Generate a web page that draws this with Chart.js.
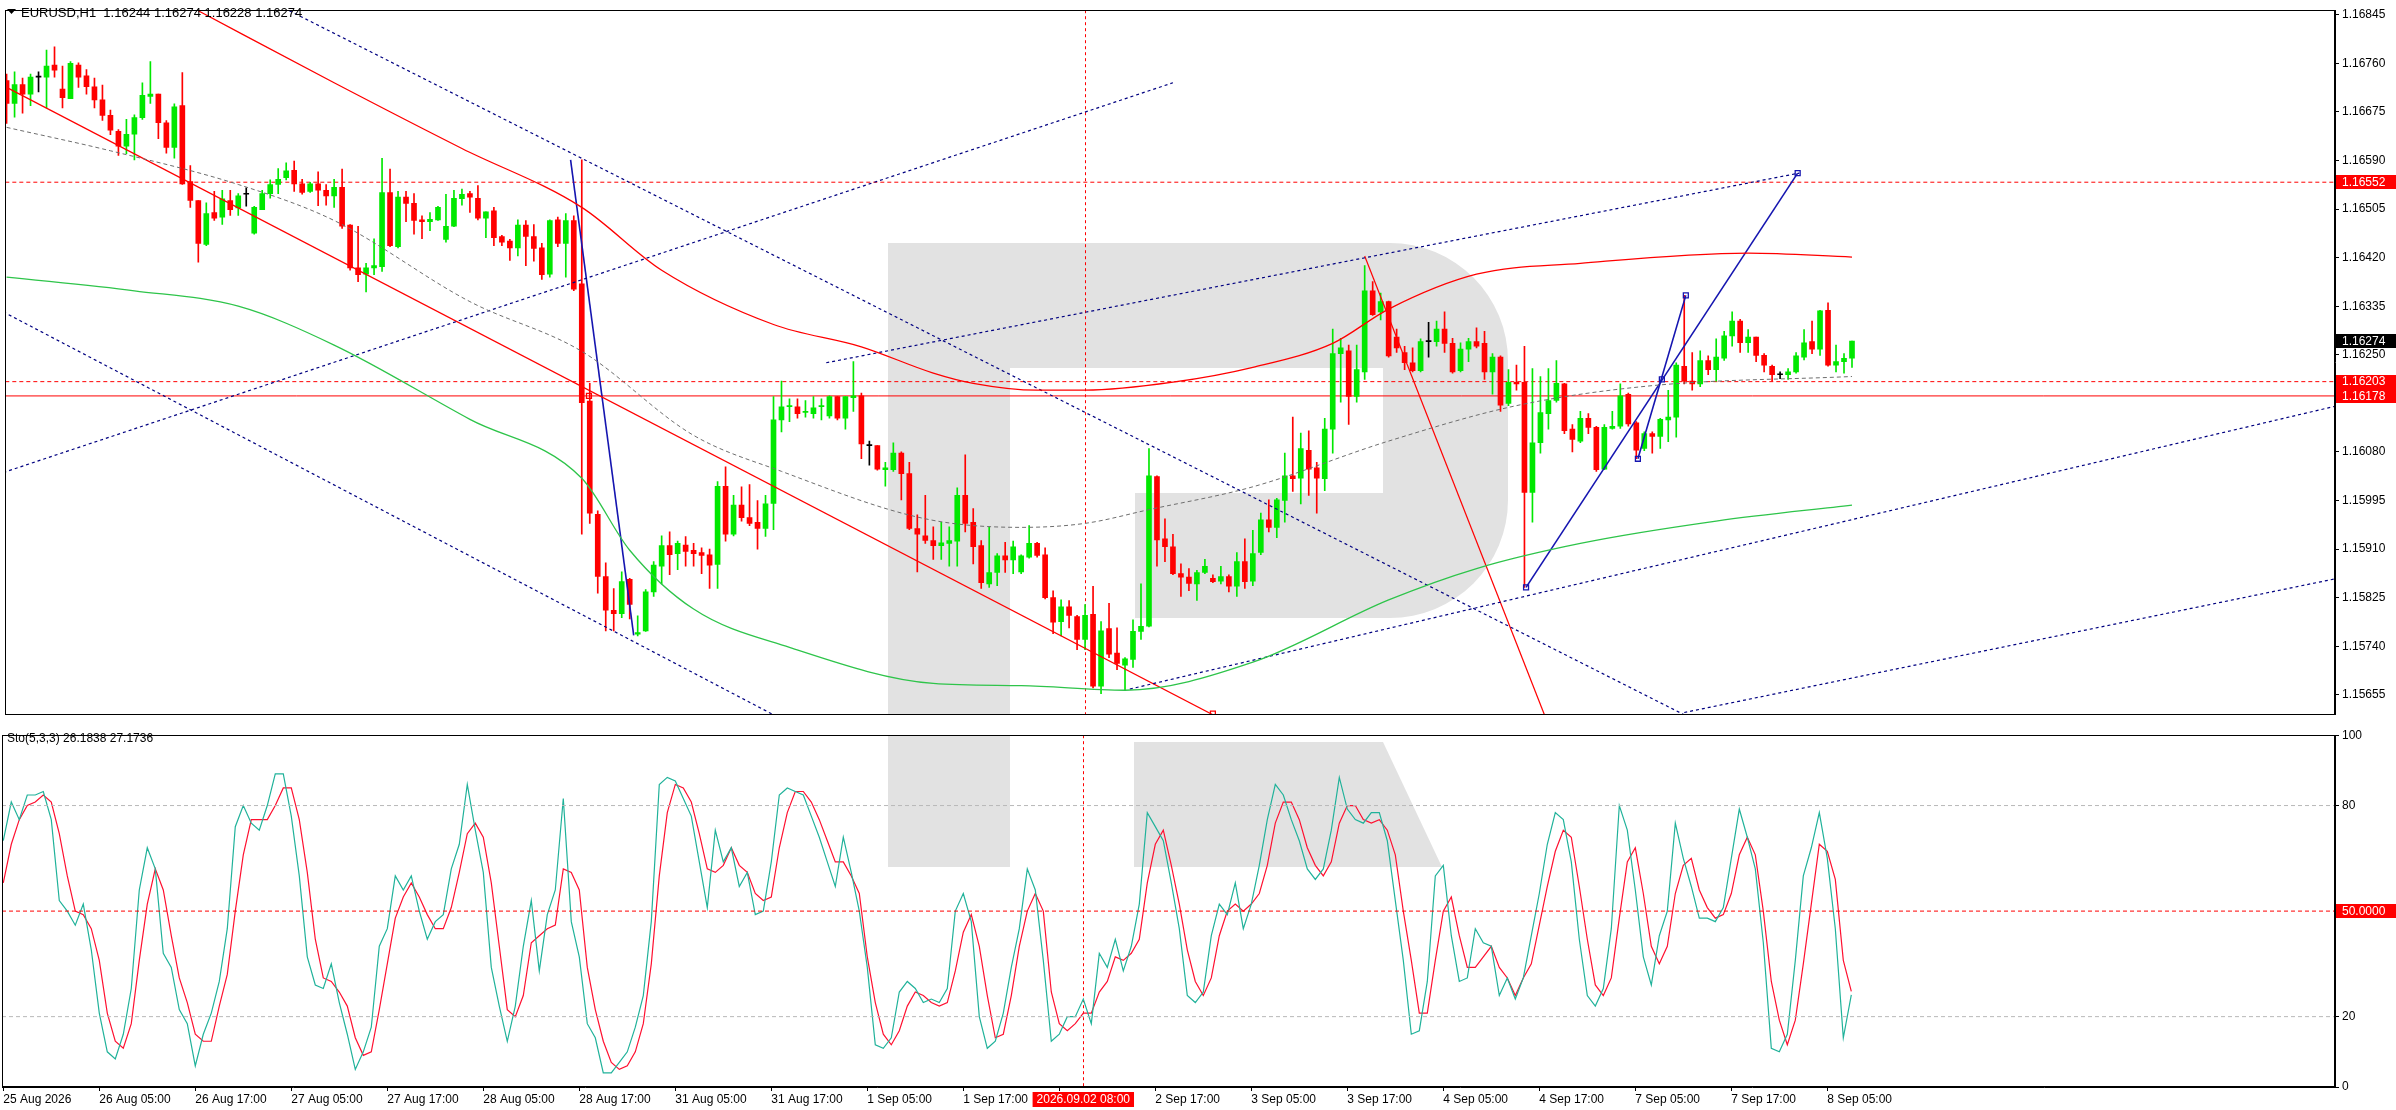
<!DOCTYPE html>
<html><head><meta charset="utf-8">
<script src="https://cdn.jsdelivr.net/npm/chart.js@4.4.1/dist/chart.umd.min.js"></script>
<style>html,body{margin:0;padding:0;background:#fff;overflow:hidden}canvas{display:block}</style>
</head><body>
<canvas id="main" width="2396" height="725"></canvas>
<canvas id="sto" width="2396" height="385"></canvas>
<script>
const xLabels=['25 Aug 2026','26 Aug 05:00','26 Aug 17:00','27 Aug 05:00','27 Aug 17:00','28 Aug 05:00','28 Aug 17:00','31 Aug 05:00','31 Aug 17:00','1 Sep 05:00','1 Sep 17:00','2 Sep 05:00','2 Sep 17:00','3 Sep 05:00','3 Sep 17:00','4 Sep 05:00','4 Sep 17:00','7 Sep 05:00','7 Sep 17:00','8 Sep 05:00'];
const priceTicks=[1.16845,1.16760,1.16675,1.16590,1.16505,1.16420,1.16335,1.16250,1.16080,1.15995,1.15910,1.15825,1.15740,1.15655];
const opens=[1.16730,1.16690,1.16723,1.16706,1.16736,1.16736,1.16757,1.16715,1.16698,1.16757,
1.16738,1.16719,1.16696,1.16669,1.16641,1.16615,1.16636,1.16665,1.16702,1.16706,
1.16656,1.16613,1.16686,1.16553,1.16520,1.16443,1.16499,1.16491,1.16520,1.16507,
1.16531,1.16463,1.16504,1.16532,1.16548,1.16560,1.16573,1.16549,1.16536,1.16549,
1.16538,1.16528,1.16543,1.16477,1.16402,1.16391,1.16402,1.16404,1.16534,1.16439,
1.16526,1.16515,1.16486,1.16483,1.16486,1.16452,1.16475,1.16523,1.16532,1.16524,
1.16489,1.16502,1.16457,1.16449,1.16437,1.16477,1.16457,1.16437,1.16391,1.16486,
1.16445,1.16485,1.16374,1.16169,1.15971,1.15862,1.15803,1.15797,1.15857,1.15761,
1.15767,1.15835,1.15880,1.15916,1.15902,1.15917,1.15908,1.15904,1.15900,1.15883,
1.16020,1.15936,1.15987,1.15965,1.15957,1.15946,1.15990,1.16136,1.16159,1.16159,
1.16149,1.16147,1.16159,1.16143,1.16177,1.16139,1.16175,1.16178,1.16091,1.16091,
1.16049,1.16049,1.16078,1.16042,1.15946,1.15933,1.15925,1.15916,1.15920,1.15924,
1.16004,1.15957,1.15916,1.15849,1.15869,1.15898,1.15891,1.15870,1.15896,1.15920,
1.15900,1.15825,1.15783,1.15809,1.15792,1.15752,1.15796,1.15670,1.15771,1.15728,
1.15707,1.15717,1.15766,1.15775,1.16037,1.15928,1.15914,1.15867,1.15861,1.15849,
1.15869,1.15859,1.15854,1.15862,1.15845,1.15888,1.15854,1.15904,1.15961,1.15948,
1.15995,1.16038,1.16034,1.16083,1.16052,1.16033,1.16120,1.16252,1.16257,1.16177,
1.16220,1.16362,1.16325,1.16343,1.16281,1.16254,1.16236,1.16222,1.16273,1.16273,
1.16295,1.16270,1.16222,1.16260,1.16273,1.16270,1.16220,1.16246,1.16165,1.16202,
1.16202,1.16009,1.16096,1.16147,1.16170,1.16199,1.16120,1.16099,1.16139,1.16123,
1.16050,1.16121,1.16125,1.16181,1.16131,1.16086,1.16112,1.16107,1.16136,1.16141,
1.16230,1.16204,1.16199,1.16240,1.16224,1.16244,1.16283,1.16309,1.16271,1.16281,
1.16249,1.16230,1.16215,1.16215,1.16220,1.16246,1.16273,1.16260,1.16328,1.16232,
1.16238,1.16244];
const closes=[1.16690,1.16723,1.16706,1.16736,1.16736,1.16755,1.16748,1.16700,1.16760,1.16736,
1.16719,1.16696,1.16669,1.16643,1.16615,1.16636,1.16665,1.16704,1.16706,1.16656,
1.16613,1.16684,1.16549,1.16520,1.16445,1.16497,1.16489,1.16523,1.16504,1.16528,
1.16531,1.16508,1.16532,1.16548,1.16557,1.16572,1.16549,1.16534,1.16549,1.16538,
1.16528,1.16543,1.16475,1.16402,1.16390,1.16402,1.16406,1.16534,1.16441,1.16526,
1.16515,1.16485,1.16483,1.16487,1.16508,1.16475,1.16524,1.16531,1.16526,1.16489,
1.16500,1.16455,1.16447,1.16437,1.16477,1.16457,1.16436,1.16390,1.16485,1.16445,
1.16485,1.16365,1.16166,1.15973,1.15862,1.15803,1.15797,1.15853,1.15813,1.15764,
1.15835,1.15882,1.15916,1.15900,1.15920,1.15906,1.15902,1.15899,1.15882,1.16020,
1.15936,1.15987,1.15965,1.15955,1.15946,1.15989,1.16136,1.16159,1.16161,1.16147,
1.16151,1.16157,1.16161,1.16177,1.16139,1.16177,1.16178,1.16094,1.16091,1.16050,
1.16052,1.16078,1.16042,1.15946,1.15936,1.15925,1.15916,1.15921,1.15925,1.16004,
1.15955,1.15914,1.15851,1.15869,1.15898,1.15891,1.15914,1.15898,1.15920,1.15899,
1.15825,1.15782,1.15809,1.15794,1.15752,1.15794,1.15670,1.15767,1.15726,1.15710,
1.15718,1.15766,1.15775,1.16038,1.15926,1.15914,1.15867,1.15861,1.15850,1.15869,
1.15880,1.15853,1.15862,1.15845,1.15888,1.15853,1.15902,1.15961,1.15948,1.15996,
1.16038,1.16033,1.16086,1.16050,1.16034,1.16120,1.16252,1.16262,1.16177,1.16224,
1.16362,1.16320,1.16343,1.16248,1.16262,1.16236,1.16222,1.16273,1.16273,1.16295,
1.16270,1.16220,1.16260,1.16273,1.16265,1.16220,1.16246,1.16162,1.16202,1.16199,
1.16009,1.16096,1.16149,1.16170,1.16200,1.16117,1.16102,1.16139,1.16123,1.16049,
1.16123,1.16125,1.16178,1.16129,1.16083,1.16112,1.16107,1.16137,1.16141,1.16232,
1.16204,1.16199,1.16240,1.16224,1.16246,1.16283,1.16309,1.16271,1.16281,1.16249,
1.16232,1.16215,1.16215,1.16220,1.16248,1.16271,1.16260,1.16327,1.16232,1.16238,
1.16244,1.16274];
const highs=[1.16741,1.16745,1.16734,1.16741,1.16745,1.16783,1.16789,1.16755,1.16763,1.16761,
1.16749,1.16734,1.16722,1.16678,1.16644,1.16662,1.16670,1.16726,1.16763,1.16706,
1.16660,1.16689,1.16744,1.16581,1.16520,1.16516,1.16536,1.16538,1.16538,1.16532,
1.16542,1.16510,1.16538,1.16556,1.16576,1.16586,1.16589,1.16557,1.16552,1.16570,
1.16548,1.16557,1.16575,1.16478,1.16475,1.16410,1.16453,1.16594,1.16575,1.16536,
1.16536,1.16532,1.16493,1.16499,1.16510,1.16531,1.16538,1.16540,1.16536,1.16546,
1.16500,1.16508,1.16459,1.16452,1.16486,1.16485,1.16478,1.16445,1.16486,1.16491,
1.16497,1.16493,1.16591,1.16200,1.15977,1.15886,1.15841,1.15870,1.15859,1.15793,
1.15839,1.15888,1.15933,1.15940,1.15924,1.15932,1.15920,1.15912,1.15910,1.16028,
1.16054,1.16004,1.16019,1.16023,1.15995,1.16004,1.16177,1.16204,1.16173,1.16173,
1.16170,1.16177,1.16173,1.16178,1.16177,1.16177,1.16238,1.16183,1.16099,1.16091,
1.16062,1.16096,1.16080,1.16062,1.15970,1.16004,1.15949,1.15957,1.15949,1.16017,
1.16075,1.15981,1.15925,1.15949,1.15902,1.15922,1.15924,1.15900,1.15951,1.15922,
1.15912,1.15837,1.15821,1.15820,1.15794,1.15813,1.15845,1.15783,1.15815,1.15772,
1.15720,1.15786,1.15849,1.16086,1.16038,1.15963,1.15936,1.15884,1.15876,1.15873,
1.15892,1.15865,1.15880,1.15865,1.15904,1.15928,1.15943,1.15973,1.15996,1.15999,
1.16078,1.16141,1.16113,1.16117,1.16062,1.16139,1.16295,1.16279,1.16267,1.16267,
1.16406,1.16378,1.16358,1.16344,1.16295,1.16265,1.16262,1.16278,1.16307,1.16309,
1.16325,1.16279,1.16271,1.16279,1.16297,1.16291,1.16252,1.16248,1.16224,1.16232,
1.16265,1.16226,1.16212,1.16226,1.16240,1.16200,1.16128,1.16151,1.16147,1.16125,
1.16128,1.16151,1.16199,1.16183,1.16133,1.16115,1.16115,1.16139,1.16188,1.16236,
1.16354,1.16254,1.16257,1.16248,1.16278,1.16291,1.16325,1.16312,1.16294,1.16281,
1.16252,1.16232,1.16220,1.16226,1.16254,1.16294,1.16309,1.16328,1.16341,1.16267,
1.16252,1.16274];
const lows=[1.16655,1.16666,1.16673,1.16686,1.16710,1.16682,1.16736,1.16682,1.16698,1.16718,
1.16706,1.16682,1.16660,1.16635,1.16599,1.16602,1.16591,1.16662,1.16690,1.16628,
1.16603,1.16594,1.16548,1.16508,1.16412,1.16441,1.16485,1.16478,1.16494,1.16494,
1.16510,1.16461,1.16504,1.16524,1.16532,1.16556,1.16536,1.16531,1.16534,1.16511,
1.16512,1.16508,1.16471,1.16398,1.16378,1.16360,1.16390,1.16396,1.16439,1.16437,
1.16483,1.16461,1.16453,1.16467,1.16485,1.16447,1.16474,1.16512,1.16499,1.16486,
1.16455,1.16441,1.16441,1.16415,1.16423,1.16406,1.16414,1.16382,1.16386,1.16439,
1.16386,1.16362,1.15936,1.15955,1.15833,1.15767,1.15767,1.15790,1.15788,1.15758,
1.15766,1.15827,1.15849,1.15865,1.15874,1.15880,1.15880,1.15867,1.15841,1.15841,
1.15924,1.15933,1.15959,1.15951,1.15910,1.15932,1.15944,1.16115,1.16133,1.16139,
1.16141,1.16139,1.16136,1.16139,1.16136,1.16120,1.16151,1.16068,1.16057,1.16048,
1.16020,1.16046,1.15996,1.15944,1.15870,1.15920,1.15892,1.15892,1.15880,1.15880,
1.15940,1.15884,1.15841,1.15843,1.15846,1.15869,1.15867,1.15867,1.15894,1.15896,
1.15823,1.15762,1.15758,1.15772,1.15734,1.15734,1.15667,1.15657,1.15720,1.15699,
1.15663,1.15703,1.15752,1.15774,1.15880,1.15888,1.15865,1.15827,1.15837,1.15820,
1.15867,1.15851,1.15849,1.15835,1.15827,1.15841,1.15846,1.15900,1.15940,1.15930,
1.15957,1.16011,1.15989,1.16004,1.15973,1.16012,1.16078,1.16167,1.16128,1.16167,
1.16207,1.16319,1.16311,1.16246,1.16254,1.16224,1.16220,1.16220,1.16246,1.16265,
1.16254,1.16218,1.16220,1.16238,1.16262,1.16207,1.16181,1.16151,1.16161,1.16188,
1.15843,1.15957,1.16078,1.16120,1.16167,1.16112,1.16080,1.16096,1.16112,1.16046,
1.16049,1.16120,1.16121,1.16125,1.16068,1.16082,1.16078,1.16086,1.16098,1.16106,
1.16199,1.16188,1.16194,1.16215,1.16204,1.16240,1.16265,1.16254,1.16254,1.16238,
1.16220,1.16204,1.16208,1.16207,1.16218,1.16241,1.16252,1.16249,1.16230,1.16220,
1.16218,1.16228];
const stochK=[70,81,76,83,83,84,76,53,50,46,52,39,21,10,8,15,28,56,68,62,38,34,22,18,6,15,21,30,45,74,80,75,73,80,89,89,77,60,37,29,28,35,24,15,5,10,17,40,45,60,56,60,50,42,47,49,62,69,86,73,61,34,23,13,23,40,53,33,49,56,82,47,37,18,14,4,4,7,
10,17,26,47,86,88,87,82,77,64,51,73,64,68,57,61,49,50,64,83,85,84,83,77,71,64,57,71,61,50,34,12,11,14,27,30,28,24,25,24,28,50,55,47,20,11,13,21,34,45,62,56,36,13,15,20,20,25,18,38,34,42,33,40,52,78,74,70,58,45,26,24,27,43,52,49,
58,45,52,63,76,86,83,76,70,62,59,62,73,88,79,76,75,78,78,70,53,36,15,16,30,60,63,43,30,31,45,41,40,26,31,25,31,43,55,69,78,76,64,42,26,23,28,45,80,73,56,37,29,43,50,75,65,57,48,48,47,51,65,79,71,62,41,11,10,15,36,60,68,78,65,45,14,26.18];
const stochD=[58,69,76,80,81,83,81,72,60,50,49,45,36,21,13,11,18,36,52,62,56,43,31,24,15,13,13,23,32,50,66,76,76,76,80,85,85,76,61,42,31,30,27,23,14,9,10,22,35,48,54,58,54,49,45,45,51,61,72,75,71,58,40,22,20,26,41,43,45,46,62,61,56,34,22,13,7,5,
6,10,18,35,60,78,86,85,81,72,62,61,63,68,63,61,55,53,54,68,78,84,84,81,76,70,64,64,60,55,37,24,15,12,16,23,27,26,24,23,24,33,44,49,40,26,14,15,26,40,50,55,50,27,18,16,18,21,21,27,30,37,36,38,42,58,69,73,63,52,39,30,26,31,43,50,
52,50,52,55,63,75,81,81,76,68,63,60,64,75,80,80,76,75,76,73,66,50,36,21,21,36,50,54,43,34,34,37,40,34,31,26,31,35,46,57,67,73,71,57,42,29,26,31,48,64,68,55,40,35,40,55,63,65,56,51,48,49,55,66,71,66,50,30,19,12,19,35,52,69,67,59,36,27.17];
const redMaBars=[24,41,57,72,82,96,107,116,121,129,135,146,156,166,173,184,197,218,231];
const redMaVals=[1.16852,1.16726,1.16611,1.16508,1.16398,1.16303,1.16264,1.16218,1.16200,1.16188,1.16188,1.16202,1.16228,1.16270,1.16330,1.16391,1.16410,1.16428,1.16421];
const grayMaBars=[0,13,29,41,58,72,86,97,115,127,135,143,156,173,189,206,231];
const grayMaVals=[1.16648,1.16607,1.16548,1.16485,1.16343,1.16256,1.16109,1.16046,1.15963,1.15948,1.15955,1.15979,1.16019,1.16099,1.16161,1.16196,1.16212];
const greenMaBars=[0,16,29,41,58,72,78,86,98,116,127,140,156,173,184,197,214,231];
const greenMaVals=[1.16386,1.16362,1.16335,1.16267,1.16137,1.16034,1.15908,1.15805,1.15738,1.15675,1.15671,1.15663,1.15712,1.15821,1.15876,1.15920,1.15959,1.15987];
const channelLines=[[35.4,1.16852,210,1.15620],[-0.4,1.16325,96,1.15620],[-0.4,1.16044,146,1.16726],[102.6,1.16236,224.4,1.16568],[140.6,1.15665,291.5,1.16160],[210,1.15624,291.5,1.15858]];
const redLines=[[0,1.16718,151,1.15620],[170,1.16423,192.5,1.15620]];
const blueLines=[[70.6,1.16591,78.5,1.15759],[190.2,1.15843,224.2,1.16568],[204.2,1.16068,210.2,1.16354]];
const blueMarks=[[190.2,1.15843],[207.2,1.16207],[224.2,1.16568],[204.2,1.16068],[210.2,1.16354]];
const redMarks=[[72.9,1.16178],[151,1.15622]];
const levelDashed=[1.16552,1.16203];
const levelSolid=[1.16178];
const lastPrice=1.16274;
const cursorBar=135;
const cursorLabel='2026.09.02 08:00';
const stoLevels=[80,20];
const stoMid=50;

const XMIN=-0.16, XMAX=291.46;
const FONT='"Liberation Sans", Arial, sans-serif';
const GREEN='#00e800', RED='#ff0000';
const col=opens.map((o,i)=>closes[i]>o?GREEN:(closes[i]<o?RED:'#000000'));

function seg(a,color,dash,w){return {type:'line',data:[{x:a[0],y:a[1]},{x:a[2],y:a[3]}],borderColor:color,borderWidth:w||1,borderDash:dash||[],pointRadius:0,order:1};}
function hline(v,color,dash){return {type:'line',data:[{x:XMIN,y:v},{x:XMAX,y:v}],borderColor:color,borderWidth:1,borderDash:dash||[],pointRadius:0,order:3};}

const mainDatasets=[
 {type:'bar',data:lows.map((l,i)=>({x:i,y:[l,highs[i]]})),backgroundColor:col,barThickness:1,grouped:false,order:2},
 {type:'bar',data:opens.map((o,i)=>({x:i,y:[o,closes[i]]})),backgroundColor:col,barThickness:5,minBarLength:1,grouped:false,order:2},
 {type:'line',data:redMaBars.map((b,i)=>({x:b,y:redMaVals[i]})),borderColor:RED,borderWidth:1.3,pointRadius:0,cubicInterpolationMode:'monotone',order:1},
 {type:'line',data:grayMaBars.map((b,i)=>({x:b,y:grayMaVals[i]})),borderColor:'#6e6e6e',borderWidth:1,borderDash:[4,3],pointRadius:0,cubicInterpolationMode:'monotone',order:1},
 {type:'line',data:greenMaBars.map((b,i)=>({x:b,y:greenMaVals[i]})),borderColor:'#2ec44a',borderWidth:1.3,pointRadius:0,cubicInterpolationMode:'monotone',order:1},
 ...channelLines.map(a=>seg(a,'#000080',[3,3],1.2)),
 ...redLines.map(a=>seg(a,RED,[],1.2)),
 ...blueLines.map(a=>seg(a,'#1515b0',[],1.6)),
 {type:'line',data:blueMarks.map(m=>({x:m[0],y:m[1]})),showLine:false,pointStyle:'rect',pointRadius:3.5,pointBorderColor:'#1515b0',pointBackgroundColor:'rgba(255,255,255,0)',pointBorderWidth:1.3,order:0},
 {type:'line',data:redMarks.map(m=>({x:m[0],y:m[1]})),showLine:false,pointStyle:'rect',pointRadius:3.5,pointBorderColor:RED,pointBackgroundColor:'rgba(255,255,255,0)',pointBorderWidth:1.3,order:0},
 ...levelDashed.map(v=>hline(v,RED,[4,3])),
 ...levelSolid.map(v=>hline(v,RED,[])),
];

function drawLogoMain(ctx,ca){
 ctx.save();ctx.beginPath();ctx.rect(ca.left,ca.top,ca.width,ca.height);ctx.clip();
 ctx.fillStyle='#e2e2e2';
 ctx.fillRect(888,243,122,490);
 ctx.beginPath();ctx.moveTo(888,243);ctx.lineTo(1390,243);ctx.arcTo(1508,243,1508,360,118);ctx.lineTo(1508,500);ctx.arcTo(1508,618,1390,618,118);ctx.lineTo(888,618);ctx.closePath();ctx.fill();
 ctx.fillStyle='#ffffff';
 ctx.fillRect(1010,368,373,125);
 ctx.fillRect(1010,493,125,125);
 ctx.restore();
}
function drawLogoSto(ctx,ca){
 ctx.save();ctx.beginPath();ctx.rect(ca.left,ca.top,ca.width,ca.height);ctx.clip();
 ctx.fillStyle='#e2e2e2';
 ctx.fillRect(888,0,122,142);
 ctx.beginPath();ctx.moveTo(1134,17);ctx.lineTo(1383,17);ctx.lineTo(1442,142);ctx.lineTo(1134,142);ctx.closePath();ctx.fill();
 ctx.restore();
}
function vline(chart){
 const ctx=chart.ctx,ca=chart.chartArea,x=Math.round(chart.scales.x.getPixelForValue(cursorBar))+0.5;
 ctx.save();ctx.strokeStyle=RED;ctx.lineWidth=1;ctx.setLineDash([3,3]);ctx.beginPath();ctx.moveTo(x,ca.top);ctx.lineTo(x,ca.bottom);ctx.stroke();ctx.restore();
}
function frame(chart){
 const ctx=chart.ctx,ca=chart.chartArea;
 ctx.save();ctx.strokeStyle='#000';ctx.lineWidth=1;ctx.strokeRect(Math.round(ca.left)+0.5,Math.round(ca.top)+0.5,Math.round(ca.width)-1,Math.round(ca.height)-1);ctx.restore();
}
function box(chart,v,bg){
 const ctx=chart.ctx,ca=chart.chartArea,y=chart.scales.y.getPixelForValue(v);
 ctx.save();ctx.fillStyle=bg;ctx.fillRect(ca.right+1,Math.round(y)-7,2396-ca.right,14);
 ctx.fillStyle='#fff';ctx.font='12px '+FONT;ctx.textBaseline='middle';ctx.textAlign='left';
 ctx.fillText(v<2?v.toFixed(5):v.toFixed(4),ca.right+7,y+0.5);ctx.restore();
}
const mainPlugin={id:'mainDeco',
 beforeDatasetsDraw(chart){drawLogoMain(chart.ctx,chart.chartArea);vline(chart);},
 afterDraw(chart){
  const ctx=chart.ctx;frame(chart);
  ctx.save();ctx.fillStyle='#000';ctx.beginPath();ctx.moveTo(7,9);ctx.lineTo(16,9);ctx.lineTo(11.5,14);ctx.closePath();ctx.fill();
  ctx.font='13px '+FONT;ctx.textBaseline='alphabetic';ctx.fillText('EURUSD,H1  1.16244 1.16274 1.16228 1.16274',21,17);ctx.restore();
  levelDashed.forEach(v=>box(chart,v,RED));levelSolid.forEach(v=>box(chart,v,RED));box(chart,lastPrice,'#000');
 }};
const stoPlugin={id:'stoDeco',
 beforeDatasetsDraw(chart){drawLogoSto(chart.ctx,chart.chartArea);vline(chart);},
 afterDraw(chart){
  const ctx=chart.ctx,ca=chart.chartArea;frame(chart);
  ctx.save();ctx.fillStyle='#000';ctx.font='12px '+FONT;ctx.fillText('Sto(5,3,3) 26.1838 27.1736',7,17);
  box(chart,stoMid,RED);
  const x=chart.scales.x.getPixelForValue(cursorBar);
  ctx.font='12px '+FONT;const w=ctx.measureText(cursorLabel).width+8;
  ctx.fillStyle=RED;ctx.fillRect(x-w/2,ca.bottom+5,w,15);
  ctx.fillStyle='#fff';ctx.textAlign='center';ctx.textBaseline='middle';ctx.fillText(cursorLabel,x,ca.bottom+13);
  ctx.restore();
 }};

new Chart(document.getElementById('main'),{
 type:'bar',data:{datasets:mainDatasets},
 options:{responsive:false,animation:false,devicePixelRatio:1,
  layout:{padding:{left:2,top:2,bottom:2,right:0}},
  plugins:{legend:{display:false},tooltip:{enabled:false}},
  scales:{
   x:{type:'linear',min:XMIN,max:XMAX,offset:false,display:false,grid:{offset:false}},
   y:{position:'right',min:1.15620,max:1.16853,
    afterFit(s){s.width=61;},
    afterBuildTicks(s){s.ticks=priceTicks.map(v=>({value:v}));},
    ticks:{callback:v=>Number(v).toFixed(5),color:'#000',font:{family:FONT,size:12},padding:3,autoSkip:false},
    grid:{drawOnChartArea:false,tickLength:4,color:'#000'},border:{color:'#000'}}
  }},
 plugins:[mainPlugin]});

const stoDatasets=[
 ...stoLevels.map(v=>({type:'line',data:[{x:XMIN,y:v},{x:XMAX,y:v}],borderColor:'#b8b8b8',borderWidth:1,borderDash:[4,3],pointRadius:0})),
 {type:'line',data:[{x:XMIN,y:stoMid},{x:XMAX,y:stoMid}],borderColor:RED,borderWidth:1,borderDash:[4,3],pointRadius:0},
 {type:'line',data:stochK.map((v,i)=>({x:i,y:v})),borderColor:'#20b29a',borderWidth:1.2,pointRadius:0},
 {type:'line',data:stochD.map((v,i)=>({x:i,y:v})),borderColor:'#ff1030',borderWidth:1.2,pointRadius:0}
];
new Chart(document.getElementById('sto'),{
 type:'line',data:{datasets:stoDatasets},
 options:{responsive:false,animation:false,devicePixelRatio:1,
  layout:{padding:{left:2,top:2,bottom:0,right:0}},
  plugins:{legend:{display:false},tooltip:{enabled:false}},
  scales:{
   x:{type:'linear',min:XMIN,max:XMAX,offset:false,position:'bottom',
    afterFit(s){s.height=23;},
    afterBuildTicks(s){s.ticks=xLabels.map((_,i)=>({value:i*12}));},
    ticks:{callback:v=>xLabels[Math.round(v/12)]||'',align:'start',maxRotation:0,autoSkip:false,color:'#000',font:{family:FONT,size:12},padding:1},
    grid:{drawOnChartArea:false,tickLength:4,color:'#000'},border:{color:'#000'}},
   y:{position:'right',min:0,max:100,
    afterFit(s){s.width=61;},
    afterBuildTicks(s){s.ticks=[100,80,50,20,0].map(v=>({value:v}));},
    ticks:{callback:v=>String(v),color:'#000',font:{family:FONT,size:12},padding:3,autoSkip:false},
    grid:{drawOnChartArea:false,tickLength:4,color:'#000'},border:{color:'#000'}}
  }},
 plugins:[stoPlugin]});
</script>
</body></html>
